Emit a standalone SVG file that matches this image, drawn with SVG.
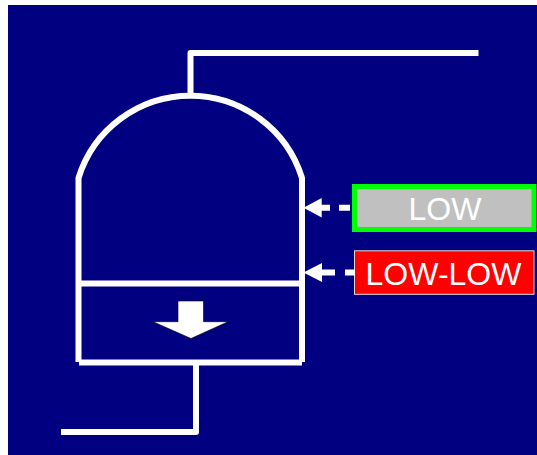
<svg xmlns="http://www.w3.org/2000/svg" width="537" height="455" viewBox="0 0 537 455">
<style>
.pipe{fill:none;stroke:#fff;stroke-width:6;stroke-linejoin:round}
.dash{fill:none;stroke:#fff;stroke-width:6}
.head{fill:#fff}
.lbl{font-family:"Liberation Sans",Arial,sans-serif;font-size:32px;fill:#fff;text-anchor:middle}
</style>
<rect width="537" height="455" fill="#fff"/>
<rect x="8" y="5" width="529" height="450" fill="#000080"/>
<g id="vessel">
<path class="pipe" d="M78.500 362V178A117 117 0 0 1 302 178V362"/>
<path class="pipe" d="M78.500 283.500H302M79 362.500H302"/>
<path d="M178 301H203.500V321.700H228L191 338.500L153 321.700H178Z" fill="#fff" stroke="#000" stroke-width="0.6"/>
</g>
<g id="low">
<rect x="354.500" y="186.500" width="179.500" height="43" fill="#c0c0c0" stroke="#00ff00" stroke-width="5"/>
<text class="lbl" x="445" y="220">LOW</text>
</g>
<g id="low-low">
<rect x="354.500" y="250.800" width="179.500" height="43.500" fill="#f00" stroke="#ddd" stroke-width="1"/>
<text class="lbl" x="443.500" y="285">LOW-LOW</text>
</g>
<g id="connectors">
<path class="pipe" d="M190.500 95V53H478.500"/>
<path class="pipe" d="M196 362V432H61"/>
<path class="dash" d="M320 207.700H330M339 207.700H350"/>
<path class="head" d="M303.500 207.700L321.700 198V217.400Z"/>
<path class="dash" d="M320 272.500H335M345 272.500H355"/>
<path class="head" d="M303.500 272.500L322 263V282Z"/>
</g>
</svg>
